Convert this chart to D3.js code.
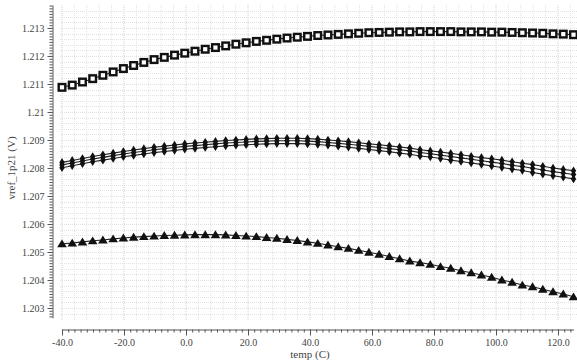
<!DOCTYPE html>
<html>
<head>
<meta charset="utf-8">
<script src="https://cdn.jsdelivr.net/npm/d3@7"></script>
<style>
  body { margin: 0; background: #fff; }
  text { font-family: "Liberation Serif", "Times New Roman", serif; fill: #444; }
</style>
</head>
<body>
<div id="chart"></div>
<script>
// temperature sweep: -40 .. 125 in 3.3 C steps (51 points)
const temps = d3.range(51).map(i => +(-40 + i * 3.3).toFixed(1));

const squareVals = [
  1.21088, 1.21096, 1.21107, 1.21119, 1.21131, 1.21143, 1.21155, 1.21166, 1.21177, 1.21187,
  1.21195, 1.21203, 1.21210, 1.21217, 1.21224, 1.21230, 1.21236, 1.21242, 1.21247, 1.21252,
  1.21256, 1.21260, 1.21264, 1.21267, 1.21270, 1.21273, 1.21275, 1.21277, 1.21279, 1.21281,
  1.21283, 1.21284, 1.21285, 1.21286, 1.21286, 1.21287, 1.21287, 1.21287, 1.21287, 1.21286,
  1.21286, 1.21286, 1.21285, 1.21285, 1.21284, 1.21283, 1.21282, 1.21281, 1.21279, 1.21278,
  1.21276
];

const diamondTop = [
  1.20820, 1.20827, 1.20834, 1.20841, 1.20847, 1.20853, 1.20859, 1.20864, 1.20869, 1.20874,
  1.20878, 1.20882, 1.20886, 1.20889, 1.20892, 1.20895, 1.20898, 1.20900, 1.20902, 1.20904,
  1.20905, 1.20906, 1.20906, 1.20906, 1.20905, 1.20903, 1.20900, 1.20897, 1.20894, 1.20890,
  1.20886, 1.20883, 1.20879, 1.20875, 1.20871, 1.20865, 1.20861, 1.20857, 1.20852, 1.20847,
  1.20842, 1.20837, 1.20833, 1.20828, 1.20822, 1.20817, 1.20812, 1.20806, 1.20800, 1.20795,
  1.20790
];

const diamondMid = [
  1.20811, 1.20818, 1.20825, 1.20832, 1.20838, 1.20844, 1.20850, 1.20855, 1.20860, 1.20865,
  1.20869, 1.20873, 1.20877, 1.20880, 1.20883, 1.20886, 1.20889, 1.20891, 1.20893, 1.20895,
  1.20896, 1.20897, 1.20897, 1.20897, 1.20896, 1.20894, 1.20891, 1.20888, 1.20885, 1.20881,
  1.20877, 1.20873, 1.20869, 1.20865, 1.20861, 1.20855, 1.20851, 1.20846, 1.20841, 1.20836,
  1.20831, 1.20826, 1.20821, 1.20816, 1.20810, 1.20805, 1.20799, 1.20793, 1.20787, 1.20782,
  1.20777
];

const diamondBot = [
  1.20801, 1.20808, 1.20815, 1.20822, 1.20828, 1.20834, 1.20840, 1.20845, 1.20850, 1.20855,
  1.20859, 1.20863, 1.20867, 1.20870, 1.20873, 1.20876, 1.20879, 1.20881, 1.20883, 1.20885,
  1.20886, 1.20887, 1.20887, 1.20887, 1.20886, 1.20884, 1.20881, 1.20878, 1.20874, 1.20870,
  1.20866, 1.20862, 1.20858, 1.20853, 1.20849, 1.20843, 1.20839, 1.20834, 1.20828, 1.20823,
  1.20818, 1.20813, 1.20807, 1.20802, 1.20796, 1.20791, 1.20784, 1.20778, 1.20772, 1.20767,
  1.20761
];

const triangleVals = [
  1.20529, 1.20532, 1.20536, 1.20540, 1.20543, 1.20547, 1.20550, 1.20553, 1.20555, 1.20557,
  1.20559, 1.20560, 1.20561, 1.20562, 1.20562, 1.20562, 1.20561, 1.20559, 1.20557, 1.20555,
  1.20552, 1.20549, 1.20545, 1.20541, 1.20536, 1.20531, 1.20525, 1.20519, 1.20513, 1.20506,
  1.20499, 1.20492, 1.20484, 1.20476, 1.20468, 1.20462, 1.20456, 1.20448, 1.20442, 1.20433,
  1.20426, 1.20418, 1.20410, 1.20400, 1.20392, 1.20382, 1.20376, 1.20367, 1.20358, 1.20350,
  1.20340
];

const xTicks = [-40, -20, 0, 20, 40, 60, 80, 100, 120];
const yTicks = [1.203, 1.204, 1.205, 1.206, 1.207, 1.208, 1.209, 1.21, 1.211, 1.212, 1.213];

const width = 577, height = 362;

const svg = d3.select("#chart").append("svg")
  .attr("width", width)
  .attr("height", height);

const x = d3.scaleLinear().domain([-40, 125]).range([62, 573.5]);
const y = d3.scaleLinear().domain([1.20265, 1.21382]).range([317.8, 5]);

// grid (dotted)
const grid = svg.append("g");
const gx = d3.range(-40, 125, 4);
const gy = d3.range(1.2028, 1.2138, 0.0002);
grid.selectAll(".vg").data(gx).enter().append("line")
  .attr("x1", d => x(d)).attr("x2", d => x(d))
  .attr("y1", 5).attr("y2", 320)
  .attr("stroke", d => d % 20 === 0 ? "#cfcfcf" : "#e2e2e2")
  .attr("stroke-width", 1)
  .attr("stroke-dasharray", "1,1");
grid.selectAll(".hg").data(gy).enter().append("line")
  .attr("x1", 60).attr("x2", 577)
  .attr("y1", d => Math.round(y(d)) + 0.5).attr("y2", d => Math.round(y(d)) + 0.5)
  .attr("stroke", "#e2e2e2")
  .attr("stroke-width", 1)
  .attr("stroke-dasharray", "1,1");

// y axis
const yMinor = d3.range(1.2027, 1.21385, 0.0001);
svg.append("g")
  .attr("transform", "translate(52.5,0)")
  .call(d3.axisLeft(y).tickValues(yMinor).tickSize(3).tickSizeOuter(0).tickFormat(""))
  .call(g => g.selectAll("path,line").attr("stroke", "#555"));
svg.append("g")
  .attr("transform", "translate(52.5,0)")
  .call(d3.axisLeft(y).tickValues(yTicks).tickSize(5).tickSizeOuter(0).tickFormat(d => String(+d.toFixed(3))))
  .call(g => g.select(".domain").remove())
  .call(g => g.selectAll("line").attr("stroke", "#555"))
  .call(g => g.selectAll("text").attr("font-size", 10).attr("fill", "#444").attr("x", -8)
    .style("font-family", "Liberation Serif, serif"));

// x axis
const xMinor = d3.range(-40, 125, 2);
svg.append("g")
  .attr("transform", "translate(0,329.5)")
  .call(d3.axisBottom(x).tickValues(xMinor).tickSize(3).tickSizeOuter(0).tickFormat(""))
  .call(g => g.selectAll("path,line").attr("stroke", "#555"));
svg.append("g")
  .attr("transform", "translate(0,329.5)")
  .call(d3.axisBottom(x).tickValues(xTicks).tickSize(6).tickSizeOuter(0).tickFormat(d => d.toFixed(1)))
  .call(g => g.select(".domain").remove())
  .call(g => g.selectAll("line").attr("stroke", "#555"))
  .call(g => g.selectAll("text").attr("font-size", 10).attr("fill", "#444").attr("y", 9)
    .style("font-family", "Liberation Serif, serif"));

// axis titles
svg.append("text")
  .attr("x", x(40)).attr("y", 358)
  .attr("text-anchor", "middle")
  .attr("font-size", 11)
  .text("temp (C)");
svg.append("text")
  .attr("transform", "translate(15,168) rotate(-90)")
  .attr("text-anchor", "middle")
  .attr("font-size", 11)
  .text("vref_1p21 (V)");

// series
const line = d3.line().x((d, i) => x(temps[i])).y(d => y(d));
const plot = svg.append("g");

function drawLine(vals) {
  plot.append("path")
    .datum(vals)
    .attr("d", line)
    .attr("fill", "none")
    .attr("stroke", "#222")
    .attr("stroke-width", 1.1);
}

[squareVals, diamondTop, diamondMid, diamondBot, triangleVals].forEach(drawLine);

// square markers
plot.selectAll(".sq").data(squareVals).enter().append("rect")
  .attr("x", (d, i) => x(temps[i]) - 3.3)
  .attr("y", d => y(d) - 3.3)
  .attr("width", 6.6).attr("height", 6.6)
  .attr("fill", "#fff")
  .attr("stroke", "#111")
  .attr("stroke-width", 2.4);

// diamond markers
const diamond = "M0,-4.3L2.7,0L0,4.3L-2.7,0Z";
[diamondTop, diamondMid, diamondBot].forEach(vals => {
  plot.append("g").selectAll("path").data(vals).enter().append("path")
    .attr("d", diamond)
    .attr("transform", (d, i) => `translate(${x(temps[i])},${y(d)})`)
    .attr("fill", "#111");
});

// triangle markers
const tri = "M0,-4.4L4.8,3.5L-4.8,3.5Z";
plot.selectAll(".tri").data(triangleVals).enter().append("path")
  .attr("d", tri)
  .attr("transform", (d, i) => `translate(${x(temps[i])},${y(d)})`)
  .attr("fill", "#111");
</script>
</body>
</html>
